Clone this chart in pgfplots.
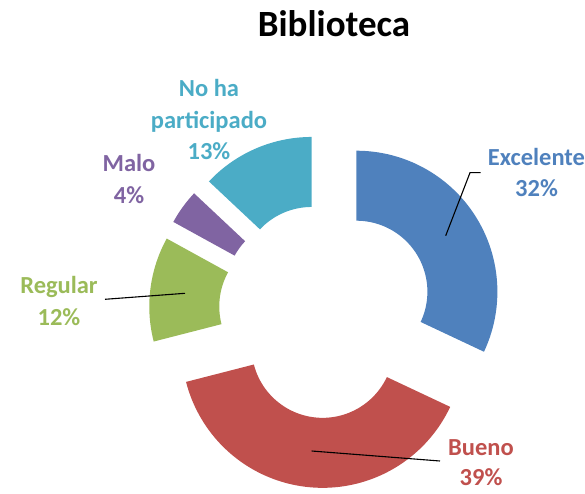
\documentclass[border=0pt]{standalone}
\usepackage{fontspec}
\setmainfont{Carlito}
\usepackage{pgfplots}
\pgfplotsset{compat=1.18}
\usepgfplotslibrary{fillbetween}

\definecolor{cExc}{HTML}{4F81BD}
\definecolor{cBue}{HTML}{C0504D}
\definecolor{cReg}{HTML}{9BBB59}
\definecolor{cMal}{HTML}{8064A2}
\definecolor{cNoh}{HTML}{4BACC6}

% shares in percent, clockwise from the top
\def\vExc{32}
\def\vBue{39}
\def\vReg{12}
\def\vMal{4}
\def\vNoh{13}

% ring geometry (axis units)
\def\cx{326}
\def\cy{182}
\def\Rout{141}
\def\Rin{71}
\def\dd{36}

% one exploded doughnut slice: #1 start angle, #2 end angle, #3 colour, #4 name
\newcommand\slice[4]{%
  \pgfmathsetmacro\tmpmid{(#1+#2)/2}%
  \edef\tmpx{\cx+\dd*cos(\tmpmid)}%
  \edef\tmpy{\cy+\dd*sin(\tmpmid)}%
  \edef\doslice{%
    \noexpand\addplot[draw=none, name path=out#4, domain=#2:#1, samples=90]
      ({\tmpx+\Rout*cos(x)},{\tmpy+\Rout*sin(x)});
    \noexpand\addplot[draw=none, name path=in#4, domain=#2:#1, samples=90]
      ({\tmpx+\Rin*cos(x)},{\tmpy+\Rin*sin(x)});
    \noexpand\addplot[fill=#3, draw=none] fill between[of=out#4 and in#4];
  }%
  \doslice
}

\newcommand\lab{\fontsize{24.5}{30}\selectfont\bfseries}

\begin{document}
\begin{tikzpicture}
\pgfmathsetmacro\aZero{90}
\pgfmathsetmacro\aOne{\aZero-3.6*\vExc}
\pgfmathsetmacro\aTwo{\aOne-3.6*\vBue}
\pgfmathsetmacro\aThree{\aTwo-3.6*\vReg}
\pgfmathsetmacro\aFour{\aThree-3.6*\vMal}
\pgfmathsetmacro\aFive{\aFour-3.6*\vNoh}
\begin{axis}[
  width=585pt, height=493pt, scale only axis,
  xmin=0, xmax=585, ymin=0, ymax=493,
  hide axis, clip=false,
]
\slice{\aZero}{\aOne}{cExc}{A}
\slice{\aOne}{\aTwo}{cBue}{B}
\slice{\aTwo}{\aThree}{cReg}{C}
\slice{\aThree}{\aFour}{cMal}{D}
\slice{\aFour}{\aFive}{cNoh}{E}

% leader lines
\addplot[black, line width=1.1pt] coordinates {(445.7,257.3) (470,320.3) (480.7,320.3)};
\addplot[black, line width=1.1pt] coordinates {(311.7,42) (440,32)};
\addplot[black, line width=1.1pt] coordinates {(185,199.7) (105,193.7)};

% title
\node[anchor=base, font=\fontsize{37}{44}\selectfont\bfseries] at (axis cs:334,456) {Biblioteca};

% data labels
\node[anchor=base, text=cExc, font=\lab] at (axis cs:536.5,327) {Excelente};
\node[anchor=base, text=cExc, font=\lab] at (axis cs:536.5,296.3) {\vExc\%};
\node[anchor=base, text=cBue, font=\lab] at (axis cs:481,38) {Bueno};
\node[anchor=base, text=cBue, font=\lab] at (axis cs:481,7.3) {\vBue\%};
\node[anchor=base, text=cReg, font=\lab] at (axis cs:59,199.7) {Regular};
\node[anchor=base, text=cReg, font=\lab] at (axis cs:59,168) {\vReg\%};
\node[anchor=base, text=cMal, font=\lab] at (axis cs:129,321.3) {Malo};
\node[anchor=base, text=cMal, font=\lab] at (axis cs:129,289.7) {\vMal\%};
\node[anchor=base, text=cNoh, font=\lab] at (axis cs:209,396.3) {No ha};
\node[anchor=base, text=cNoh, font=\lab] at (axis cs:209,364.7) {participado};
\node[anchor=base, text=cNoh, font=\lab] at (axis cs:209,333.7) {\vNoh\%};
\end{axis}
\pgfresetboundingbox
\path[use as bounding box] (current axis.south west) rectangle (current axis.north east);
\end{tikzpicture}
\end{document}
